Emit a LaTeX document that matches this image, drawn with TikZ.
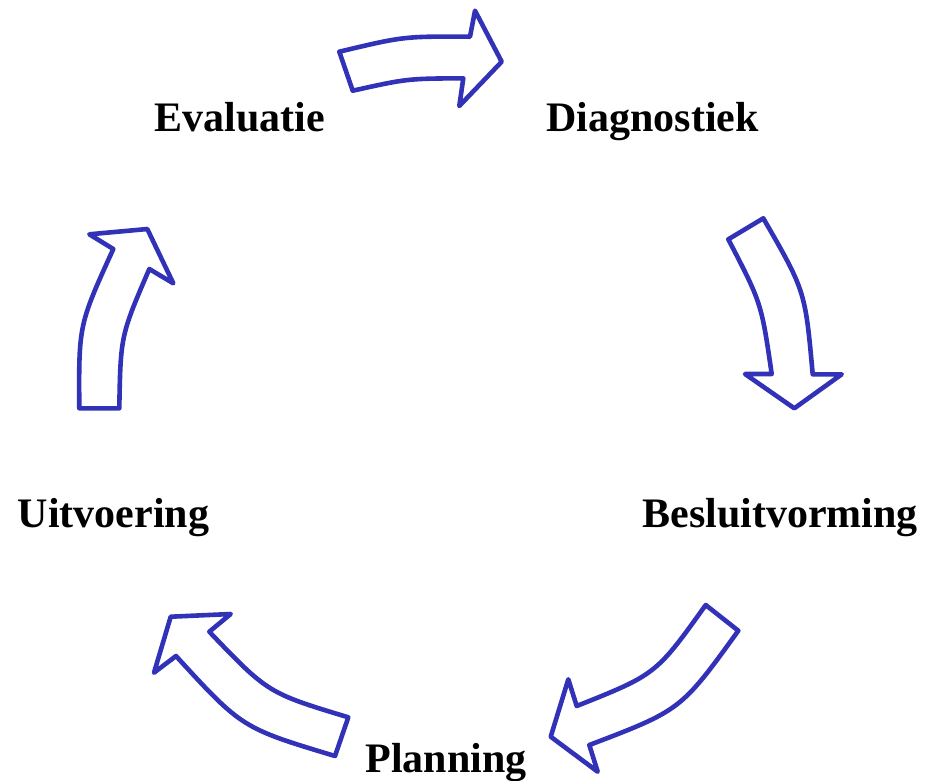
\documentclass[tikz,border=0pt]{standalone}
\usepackage{fontspec}
\setmainfont{Liberation Serif}
\definecolor{arrowblue}{RGB}{50,50,185}
\begin{document}
\begin{tikzpicture}[x=1pt,y=-1pt,
  lbl/.style={anchor=base,inner sep=0pt,font=\fontsize{42}{50}\selectfont\bfseries},
  blockarrow/.style={draw=arrowblue,line width=4.6pt,line join=round,fill=white}]
\useasboundingbox (0,0) rectangle (925,780);
% labels
\node[lbl] (eval) at (240,131) {Evaluatie};
\node[lbl] (diag) at (652.5,131) {Diagnostiek};
\node[lbl] (besl) at (780,527) {Besluitvorming};
\node[lbl] (uitv) at (113.5,527) {Uitvoering};
\node[lbl] (plan) at (446,772) {Planning};
% top arrow (Evaluatie -> Diagnostiek)
\draw[blockarrow] (339.3,51.7) .. controls (403.8,36.3) .. (470,36.7)
  -- (475,10.7) -- (501.7,61.7) -- (459.3,106) -- (463.3,78.3)
  .. controls (407.3,78.6) .. (352.7,90.7) -- cycle;
% right arrow (Diagnostiek -> Besluitvorming)
\draw[blockarrow] (728.3,239.3) -- (763.3,218.3)
  .. controls (805.2,290.9) .. (812.7,374.3)
  -- (841.7,374.3) -- (794.3,408.3) -- (745,374) -- (771.7,374)
  .. controls (761.4,303) .. (728.3,239.3) -- cycle;
% bottom-right arrow (Besluitvorming -> Planning)
\draw[blockarrow] (705.7,605) -- (738.3,630.7)
  .. controls (680.9,710.1) .. (589.3,745)
  -- (597.7,771.7) -- (550.7,736.7) -- (568.3,679.3) -- (576.7,706)
  .. controls (656.0,674.4) .. (705.7,605) -- cycle;
% bottom-left arrow (Planning -> Uitvoering)
\draw[blockarrow] (348.3,717.3) -- (335,756)
  .. controls (242,728) .. (176,656)
  -- (154,672.7) -- (170.7,616.7) -- (230.7,614) -- (209.3,631.7)
  .. controls (268,693) .. (348.3,717.3) -- cycle;
% left arrow (Uitvoering -> Evaluatie)
\draw[blockarrow] (79.3,408.3) -- (119.3,408.3)
  .. controls (120.6,335.7) .. (149.3,269)
  -- (173.3,283.3) -- (147.3,229) -- (89.3,234.3) -- (113.3,249)
  .. controls (78.7,324.9) .. (79.3,408.3) -- cycle;
\end{tikzpicture}
\end{document}
